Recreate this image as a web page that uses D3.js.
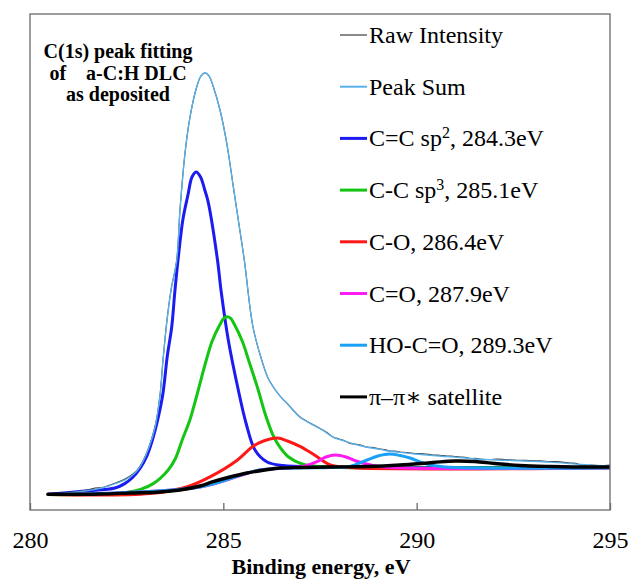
<!DOCTYPE html>
<html>
<head>
<meta charset="utf-8">
<script src="https://cdn.jsdelivr.net/npm/d3@7"></script>
<style>
  html, body { margin: 0; padding: 0; background: #fff; }
  svg { display: block; }
</style>
</head>
<body>
<svg id="chart" width="639" height="582"></svg>
<script>
// C(1s) XPS spectrum of an as-deposited a-C:H DLC film and its peak fit.
// Each series is [binding energy (eV), intensity (counts)].

const energyTicks = [280, 285, 290, 295];

const rawIntensity = [
  [280.466, 1000], [281.034, 1094], [281.422, 1219], [281.681, 1375], [281.862, 1406],
  [282.069, 1563], [282.250, 1719], [282.457, 1938], [282.664, 2250], [282.793, 2563],
  [282.922, 3063], [283.078, 3938], [283.233, 5188], [283.362, 7188], [283.440, 9375],
  [283.543, 11875], [283.647, 13750], [283.794, 15625], [283.879, 18750], [284.009, 22313],
  [284.138, 24563], [284.311, 26438], [284.422, 27125], [284.526, 27313], [284.629, 27125],
  [284.740, 26456], [284.914, 25000], [285.087, 22938], [285.258, 20206], [285.387, 18125],
  [285.542, 15625], [285.767, 11438], [285.992, 9375], [286.155, 8250], [286.292, 7688],
  [286.466, 7125], [286.639, 6688], [286.802, 6250], [286.983, 5813], [287.241, 5438],
  [287.400, 5230], [287.578, 5000], [287.700, 4820], [287.836, 4563], [287.990, 4440],
  [288.147, 4313], [288.280, 4160], [288.405, 4125], [288.550, 4060], [288.716, 3938],
  [288.880, 3900], [289.052, 3813], [289.180, 3780], [289.310, 3688], [289.440, 3680],
  [289.569, 3625], [289.760, 3590], [289.957, 3531], [290.180, 3520], [290.422, 3438],
  [290.600, 3420], [290.784, 3375], [290.950, 3360], [291.121, 3313], [291.250, 3300],
  [291.379, 3219], [291.500, 3230], [291.638, 3188], [291.897, 3156], [292.080, 3180],
  [292.284, 3156], [292.600, 3110], [292.931, 3094], [293.200, 3070], [293.448, 3031],
  [293.700, 3010], [293.966, 2938], [294.147, 2906], [294.276, 2750], [294.483, 2813],
  [294.741, 2781], [295.000, 2813]
];

const peakSum = [
  [280.466, 990], [281.034, 1080], [281.422, 1190], [281.862, 1380], [282.250, 1680],
  [282.457, 1880], [282.664, 2200], [282.793, 2530], [282.922, 3040], [283.078, 3920],
  [283.233, 5170], [283.362, 7150], [283.440, 9350], [283.543, 11850], [283.647, 13730],
  [283.794, 15620], [283.879, 18750], [284.009, 22300], [284.138, 24560], [284.311, 26440],
  [284.422, 27140], [284.526, 27330], [284.629, 27140], [284.740, 26470], [284.914, 25000],
  [285.087, 22940], [285.258, 20210], [285.387, 18130], [285.542, 15630], [285.767, 11440],
  [285.992, 9380], [286.155, 8250], [286.292, 7690], [286.466, 7120], [286.639, 6680],
  [286.802, 6240], [286.983, 5800], [287.241, 5420], [287.578, 4980], [287.836, 4560],
  [288.147, 4300], [288.405, 4110], [288.716, 3920], [289.052, 3790], [289.310, 3670],
  [289.569, 3600], [289.957, 3500], [290.422, 3400], [290.784, 3340], [291.121, 3280],
  [291.638, 3170], [292.284, 3110], [292.931, 3050], [293.448, 2990], [293.966, 2900],
  [294.483, 2800], [295.000, 2760]
];

// Fitted components (each drawn on top of the background)
const sp2Peak = [
  [280.466, 981], [281.422, 1188], [282.198, 1375], [282.450, 1650], [282.638, 2000],
  [282.845, 2600], [283.026, 3400], [283.181, 4500], [283.318, 5800], [283.440, 7313],
  [283.551, 9625], [283.665, 11438], [283.745, 13625], [283.828, 15625], [283.957, 18200],
  [284.086, 19700], [284.190, 20813], [284.300, 21125], [284.410, 20813], [284.520, 20000],
  [284.603, 19300], [284.849, 15625], [284.939, 13750], [285.128, 10625], [285.387, 7500],
  [285.586, 5438], [285.819, 3750], [286.121, 3019], [286.543, 2780], [287.500, 2690],
  [290.862, 2656], [295.000, 2656]
];

const sp3Peak = [
  [280.466, 969], [281.500, 969], [282.500, 1100], [282.876, 1300], [283.186, 1650],
  [283.367, 1980], [283.574, 2500], [283.755, 3188], [283.936, 4375], [284.143, 5690],
  [284.324, 7250], [284.531, 9125], [284.712, 10560], [284.919, 11625], [285.009, 11975],
  [285.100, 12081], [285.191, 11975], [285.281, 11625], [285.488, 10560], [285.669, 9250],
  [285.902, 7500], [286.083, 6000], [286.290, 4650], [286.471, 3900], [286.678, 3331],
  [287.040, 2875], [287.500, 2719], [288.000, 2656], [295.000, 2656]
];

const coPeak = [
  [280.466, 969], [283.103, 1031], [284.072, 1456], [284.667, 2081], [285.366, 3125],
  [285.753, 3956], [286.038, 4313], [286.400, 4500], [286.659, 4313], [286.995, 3956],
  [287.357, 3438], [287.771, 2813], [288.210, 2656], [295.000, 2625]
];

const carbonylPeak = [
  [280.466, 969], [284.397, 1438], [285.948, 2500], [286.724, 2625], [287.112, 2750],
  [287.422, 3019], [287.655, 3313], [287.900, 3438], [288.172, 3313], [288.431, 3063],
  [288.871, 2781], [289.310, 2656], [295.000, 2625]
];

const carboxylPeak = [
  [280.466, 969], [284.397, 1438], [285.948, 2500], [287.759, 2656], [288.276, 2719],
  [288.716, 3125], [288.998, 3375], [289.300, 3500], [289.569, 3406], [289.828, 3250],
  [290.259, 2875], [290.733, 2688], [291.638, 2625], [295.000, 2625]
];

// Background including the pi-pi* shake-up satellite
const satellite = [
  [280.466, 981], [281.810, 1000], [282.586, 1063], [283.362, 1125], [283.879, 1250],
  [284.397, 1500], [284.733, 1769], [285.172, 2063], [285.612, 2313], [286.078, 2500],
  [286.466, 2625], [286.983, 2656], [287.759, 2688], [288.716, 2719], [289.569, 2813],
  [290.422, 2969], [290.991, 3063], [291.508, 3031], [292.024, 2906], [292.671, 2781],
  [293.448, 2719], [294.224, 2688], [295.000, 2688]
];

const componentNames   = ["C=C sp", "C-C sp", "C-O", "C=O", "HO-C=O"];
const componentSups    = ["2", "3", "", "", ""];
const componentCentres = [284.3, 285.1, 286.4, 287.9, 289.3];
const componentData    = [sp2Peak, sp3Peak, coPeak, carbonylPeak, carboxylPeak];
const componentColours = ["#1c1cf2", "#14c514", "#ff1818", "#ff1cf2", "#1aa0f5"];

const serif = "'Liberation Serif', 'Times New Roman', 'DejaVu Serif', serif";

const svg = d3.select("#chart");
svg.append("rect").attr("width", 639).attr("height", 582).attr("fill", "#fff");

const x = d3.scaleLinear().domain([280, 295]).range([30, 610]);
const y = d3.scaleLinear().domain([0, 31000]).range([510, 14]);

svg.append("defs").append("clipPath").attr("id", "plot-clip")
  .append("rect").attr("x", 30).attr("y", 14).attr("width", 580).attr("height", 496);

const line = d3.line()
  .x(d => x(d[0]))
  .y(d => y(d[1]))
  .curve(d3.curveCatmullRom.alpha(0.5));

// Series in legend order
const series = [
  { data: rawIntensity, colour: "#3c3c3c", width: 1.1, legendWidth: 1.2,
    label: [{ t: "Raw Intensity" }] },
  { data: peakSum, colour: "#5ab0e8", width: 1.4, legendWidth: 2,
    label: [{ t: "Peak Sum" }] }
];
componentData.forEach((d, i) => {
  const label = [{ t: componentNames[i] }];
  if (componentSups[i]) label.push({ t: componentSups[i], sup: true });
  label.push({ t: ", " + componentCentres[i].toFixed(1) + "eV" });
  series.push({ data: d, colour: componentColours[i], width: 3, legendWidth: 3, label });
});
series.push({ data: satellite, colour: "#000", width: 3.4, legendWidth: 3,
  label: [{ t: "\u03c0\u2013\u03c0\u2217 satellite" }] });

const plot = svg.append("g").attr("clip-path", "url(#plot-clip)");
// components first, then the thin measured / summed curves, background on top
const order = [2, 3, 4, 5, 6, 0, 1, 7];
order.forEach(i => {
  const s = series[i];
  plot.append("path")
    .datum(s.data)
    .attr("d", line)
    .attr("fill", "none")
    .attr("stroke", s.colour)
    .attr("stroke-width", s.width)
    .attr("stroke-linejoin", "round")
    .attr("stroke-linecap", "round");
});

// Plot frame
svg.append("rect")
  .attr("x", 30).attr("y", 14).attr("width", 580).attr("height", 496)
  .attr("fill", "none").attr("stroke", "#6a6a6a").attr("stroke-width", 1.3);

// Binding energy axis with inward ticks
const axis = d3.axisBottom(x)
  .tickValues(energyTicks)
  .tickSizeInner(-7)
  .tickSizeOuter(0)
  .tickPadding(21)
  .tickFormat(d3.format("d"));
const gx = svg.append("g").attr("transform", "translate(0,510)").call(axis);
gx.select(".domain").remove();
gx.selectAll(".tick line").attr("stroke", "#6a6a6a").attr("stroke-width", 1.3);
gx.selectAll(".tick text")
  .attr("font-family", serif).attr("font-size", 24).attr("fill", "#000");

svg.append("text")
  .attr("x", 321).attr("y", 574)
  .attr("text-anchor", "middle")
  .attr("font-family", serif).attr("font-size", 22).attr("font-weight", "bold")
  .text("Binding energy, eV");

// Sample description
const titleLines = ["C(1s) peak fitting", "of    a-C:H DLC", "as deposited"];
const title = svg.append("text")
  .attr("font-family", serif).attr("font-size", 20).attr("font-weight", "bold")
  .attr("text-anchor", "middle")
  .style("white-space", "pre");
titleLines.forEach((t, i) => {
  title.append("tspan").attr("x", 118).attr("y", 58 + i * 21.5).text(t);
});

// Legend
const legend = svg.append("g");
series.forEach((s, i) => {
  const cy = 35 + i * 51.7;
  legend.append("line")
    .attr("x1", 340).attr("x2", 367).attr("y1", cy).attr("y2", cy)
    .attr("stroke", s.colour).attr("stroke-width", s.legendWidth);
  const txt = legend.append("text")
    .attr("x", 369).attr("y", cy + 8)
    .attr("font-family", serif).attr("font-size", 24).attr("fill", "#000");
  s.label.forEach(part => {
    const ts = txt.append("tspan").text(part.t);
    if (part.sup) ts.attr("font-size", 16).attr("baseline-shift", "super");
  });
});
</script>
</body>
</html>
